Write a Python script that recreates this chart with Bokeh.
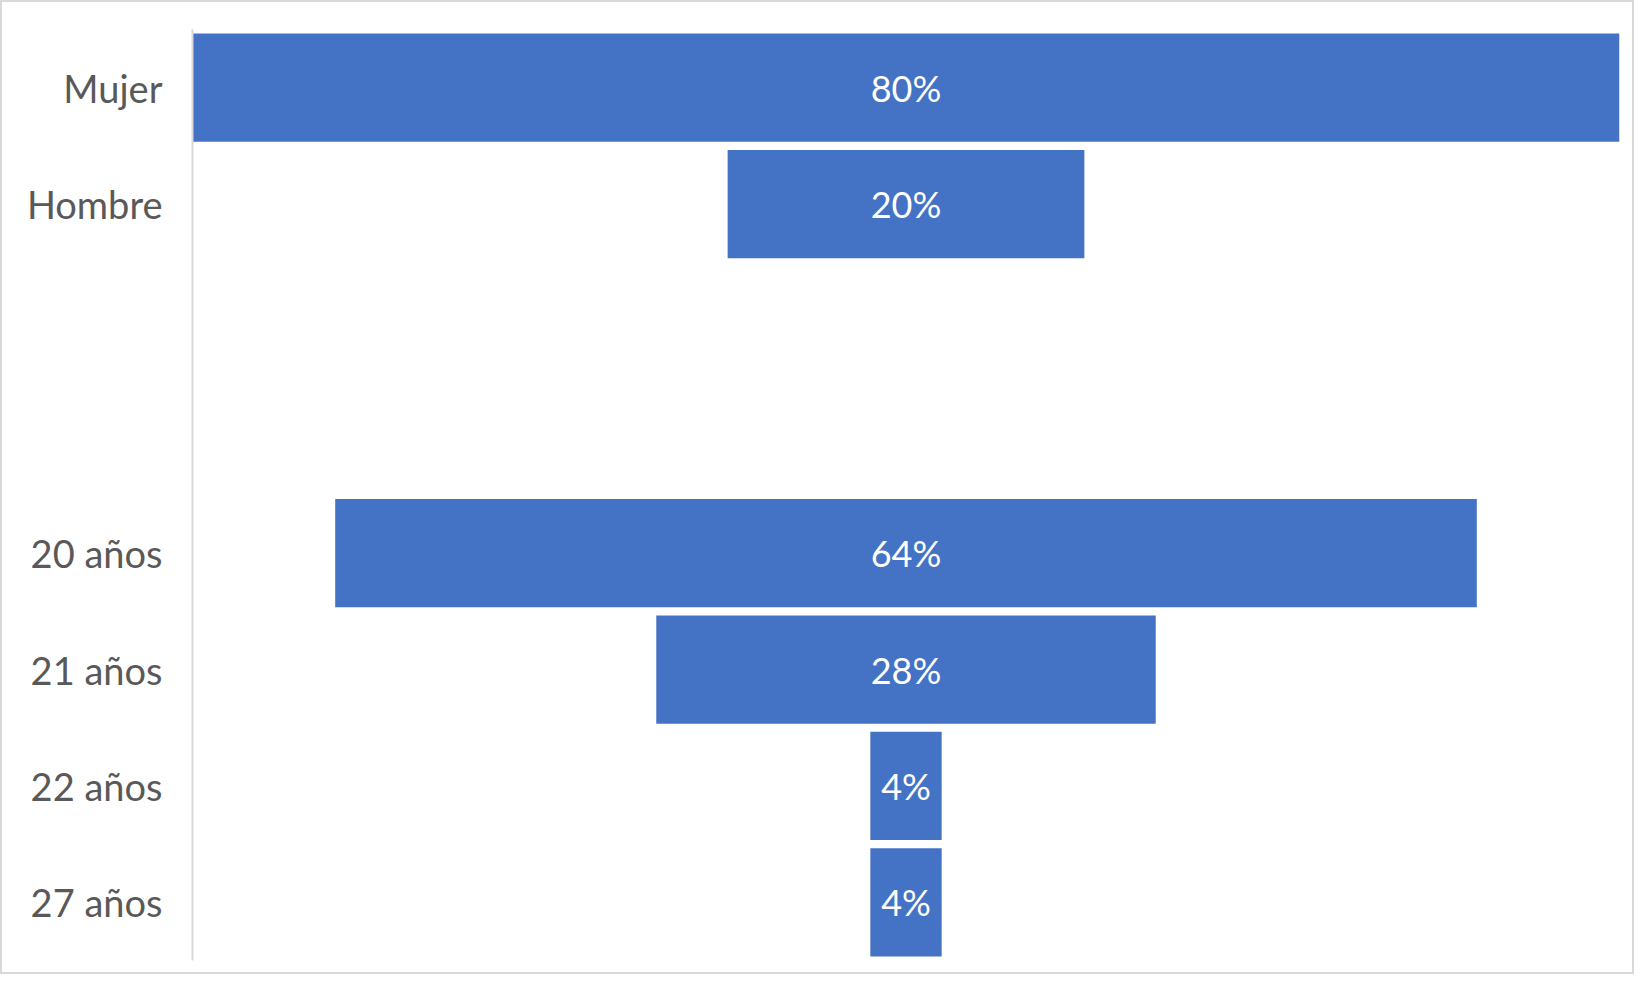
from bokeh.plotting import figure
from bokeh.models import ColumnDataSource, FactorRange, Range1d
from bokeh.core.properties import value
from bokeh.embed import file_html
from bokeh.resources import INLINE

# Data
gender_labels = ["Mujer", "Hombre"]
gender_values = [80, 20]
age_labels = ["20 años", "21 años", "22 años", "27 años"]
age_values = [64, 28, 4, 4]

labels = gender_labels + age_labels
values = gender_values + age_values
blank_rows = [" ", "  "]
factors = gender_labels + blank_rows + age_labels

src = ColumnDataSource(data=dict(
    cat=labels,
    val=values,
    left=[-v / 2 for v in values],
    right=[v / 2 for v in values],
    txt=[f"{v}%" for v in values],
    zero=[0] * len(values),
))

W, H = 1634, 974
p = figure(width=W, height=H, output_backend="svg", toolbar_location=None,
           y_range=FactorRange(factors=list(reversed(factors)), range_padding=0),
           x_range=Range1d(-40, 40),
           min_border_left=190, min_border_right=17, min_border_top=27, min_border_bottom=16,
           styles={"border": "2px solid #d9d9d9", "box-sizing": "border-box"})

p.hbar(y="cat", left="left", right="right", height=0.93, source=src,
       fill_color="#4472C4", line_color=None)

p.text(x="zero", y="cat", text="txt", source=src, text_color="white",
       text_font=value("Lato"), text_font_size="36px",
       text_align="center", text_baseline="middle")

p.xaxis.visible = False
p.xgrid.visible = False
p.ygrid.visible = False
p.outline_line_color = None

ya = p.yaxis[0]
ya.axis_line_color = "#D9D9D9"
ya.axis_line_width = 2
ya.major_tick_line_color = None
ya.minor_tick_line_color = None
ya.major_tick_out = 0
ya.major_tick_in = 0
ya.major_label_standoff = 30
ya.major_label_text_font = "Lato"
ya.major_label_text_font_size = "38px"
ya.major_label_text_color = "#595959"

open("out.html", "w").write(file_html(p, INLINE))
